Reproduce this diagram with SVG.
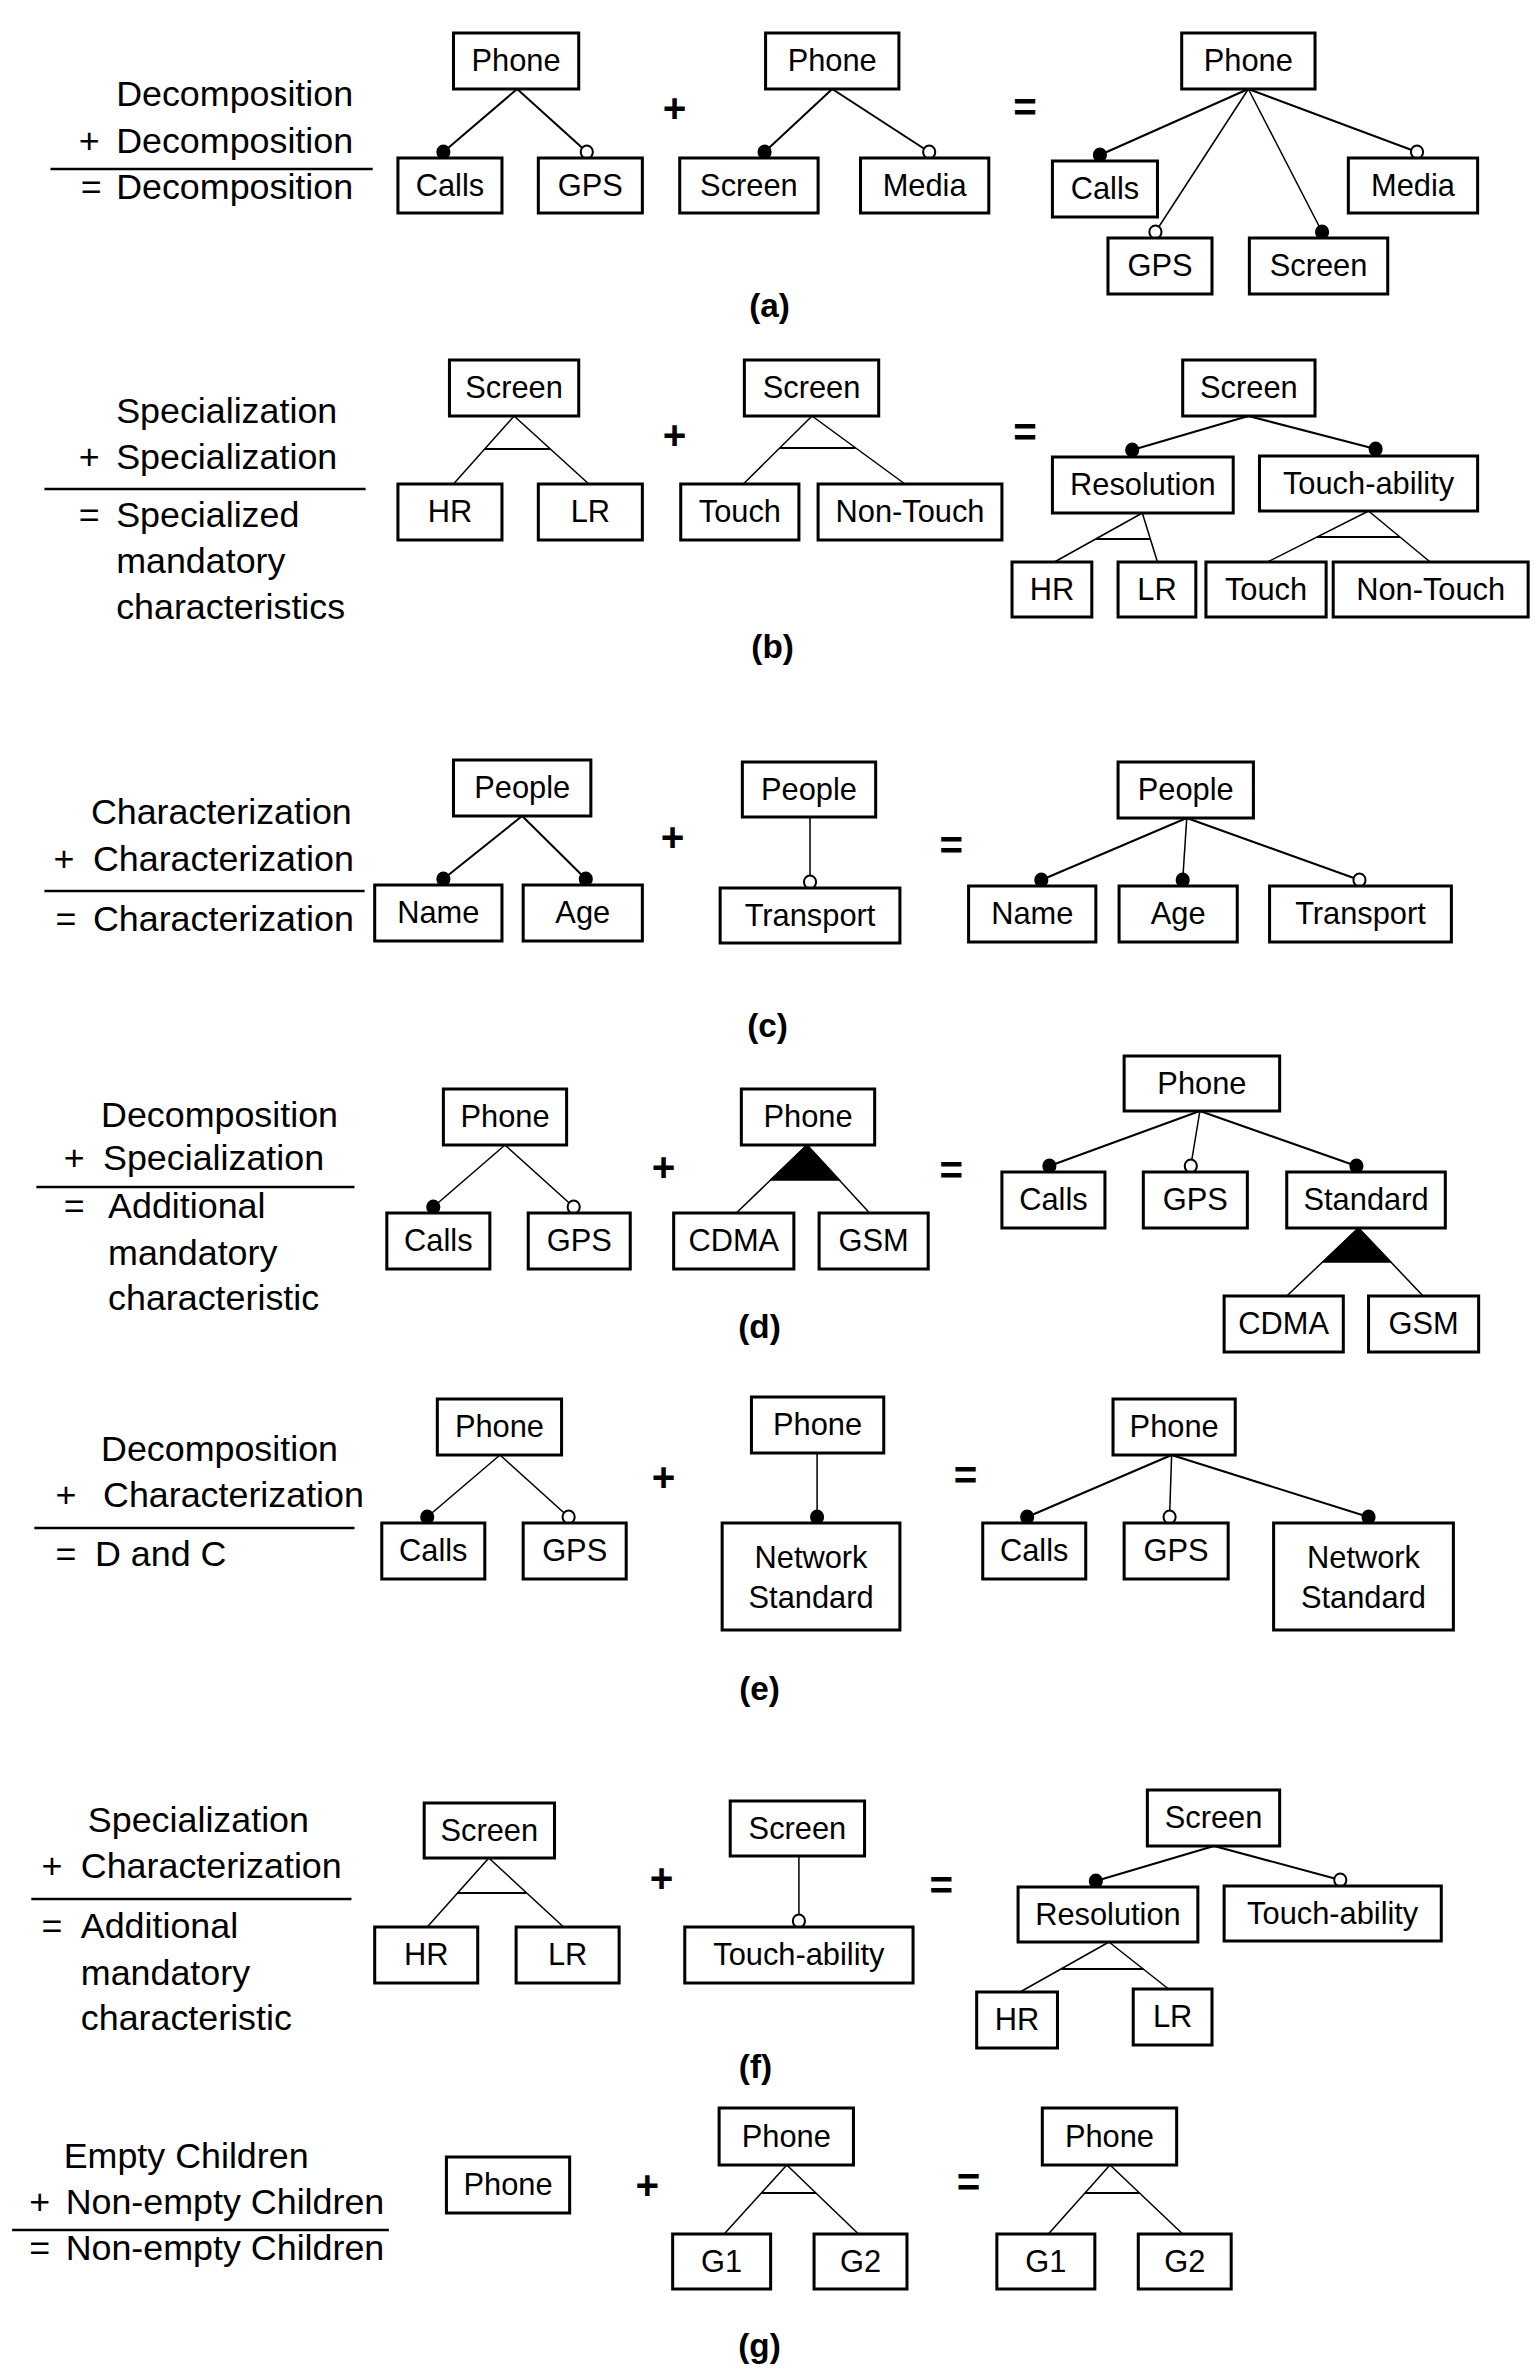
<svg xmlns="http://www.w3.org/2000/svg" width="1536" height="2374" viewBox="0 0 1536 2374">
<style>
.bg{fill:#fff}
.box{fill:#fff;stroke:#000;stroke-width:3}
.t{font-family:"Liberation Sans",Arial,sans-serif;font-size:30.5px;text-anchor:middle;fill:#000}
.s{font-family:"Liberation Sans",Arial,sans-serif;font-size:35.5px;fill:#000}
.op{font-family:"Liberation Sans",Arial,sans-serif;font-size:40px;font-weight:bold;text-anchor:middle;fill:#000}
.cap{font-family:"Liberation Sans",Arial,sans-serif;font-size:33px;font-weight:bold;text-anchor:middle;fill:#000}
.sep{stroke:#000;stroke-width:2.5}
.c{stroke:#000;stroke-width:2;fill:none}
.tn{stroke:#000;stroke-width:1.5;fill:none}
.f{fill:#000;stroke:#000;stroke-width:2}
.o{fill:#fff;stroke:#000;stroke-width:2}
.tri{fill:#000;stroke:#000;stroke-width:1.5}
</style>
<rect class="bg" x="0" y="0" width="1536" height="2374"/>
<g transform="matrix(1.01 0 0 1 0 0)">
<!-- Side labels and operators -->
<g id="labels">
<text class="s" x="115" y="106">Decomposition</text>
<text class="s" x="78" y="153">+</text><text class="s" x="115" y="153">Decomposition</text>
<line class="sep" x1="50" y1="169" x2="369" y2="169"/>
<text class="s" x="80" y="199">=</text><text class="s" x="115" y="199">Decomposition</text>
<text class="op" x="668" y="122">+</text><text class="op" x="1015" y="121">=</text>
<text class="cap" x="762" y="317">(a)</text>

<text class="s" x="115" y="423">Specialization</text>
<text class="s" x="78" y="469">+</text><text class="s" x="115" y="469">Specialization</text>
<line class="sep" x1="44" y1="489" x2="362" y2="489"/>
<text class="s" x="78" y="527">=</text><text class="s" x="115" y="527">Specialized</text>
<text class="s" x="115" y="573">mandatory</text>
<text class="s" x="115" y="619">characteristics</text>
<text class="op" x="668" y="449">+</text><text class="op" x="1015" y="446">=</text>
<text class="cap" x="765" y="658">(b)</text>

<text class="s" x="90" y="824">Characterization</text>
<text class="s" x="53" y="871">+</text><text class="s" x="92" y="871">Characterization</text>
<line class="sep" x1="44" y1="891" x2="361" y2="891"/>
<text class="s" x="55" y="931">=</text><text class="s" x="92" y="931">Characterization</text>
<text class="op" x="666" y="851">+</text><text class="op" x="942" y="859">=</text>
<text class="cap" x="760" y="1037">(c)</text>

<text class="s" x="100" y="1127">Decomposition</text>
<text class="s" x="63" y="1170">+</text><text class="s" x="102" y="1170">Specialization</text>
<line class="sep" x1="36" y1="1187" x2="351" y2="1187"/>
<text class="s" x="63" y="1218">=</text><text class="s" x="107" y="1218">Additional</text>
<text class="s" x="107" y="1265">mandatory</text>
<text class="s" x="107" y="1310">characteristic</text>
<text class="op" x="657" y="1181">+</text><text class="op" x="942" y="1184">=</text>
<text class="cap" x="752" y="1338">(d)</text>

<text class="s" x="100" y="1461">Decomposition</text>
<text class="s" x="55" y="1507">+</text><text class="s" x="102" y="1507">Characterization</text>
<line class="sep" x1="34" y1="1528" x2="351" y2="1528"/>
<text class="s" x="55" y="1566">=</text><text class="s" x="94" y="1566">D and C</text>
<text class="op" x="657" y="1491">+</text><text class="op" x="956" y="1489">=</text>
<text class="cap" x="752" y="1700">(e)</text>

<text class="s" x="87" y="1832">Specialization</text>
<text class="s" x="41" y="1878">+</text><text class="s" x="80" y="1878">Characterization</text>
<line class="sep" x1="31" y1="1899" x2="348" y2="1899"/>
<text class="s" x="41" y="1938">=</text><text class="s" x="80" y="1938">Additional</text>
<text class="s" x="80" y="1985">mandatory</text>
<text class="s" x="80" y="2030">characteristic</text>
<text class="op" x="655" y="1892">+</text><text class="op" x="932" y="1899">=</text>
<text class="cap" x="748" y="2078">(f)</text>

<text class="s" x="63" y="2168">Empty Children</text>
<text class="s" x="29" y="2214">+</text><text class="s" x="65" y="2214">Non-empty Children</text>
<line class="sep" x1="12" y1="2230" x2="385" y2="2230"/>
<text class="s" x="29" y="2260">=</text><text class="s" x="65" y="2260">Non-empty Children</text>
<text class="op" x="641" y="2199">+</text><text class="op" x="959" y="2196">=</text>
<text class="cap" x="752" y="2357">(g)</text>
</g>

<!-- Connectors -->
<g id="connectors">
<!-- a -->
<line class="c" x1="512" y1="89" x2="439" y2="152"/><line class="c" x1="512" y1="89" x2="581" y2="152"/>
<line class="c" x1="824" y1="89" x2="757" y2="152"/><line class="c" x1="824" y1="89" x2="920" y2="152"/>
<line class="c" x1="1236" y1="89" x2="1089" y2="155"/><line class="c" x1="1236" y1="89" x2="1403" y2="152"/>
<line class="tn" x1="1236" y1="89" x2="1144" y2="232"/><line class="tn" x1="1236" y1="89" x2="1309" y2="232"/>
<ellipse class="f" cx="439" cy="152" rx="6" ry="6.5"/><ellipse class="o" cx="581" cy="152" rx="6" ry="6.5"/>
<ellipse class="f" cx="757" cy="152" rx="6" ry="6.5"/><ellipse class="o" cx="920" cy="152" rx="6" ry="6.5"/>
<ellipse class="f" cx="1089" cy="155" rx="6" ry="6.5"/><ellipse class="o" cx="1403" cy="152" rx="6" ry="6.5"/>
<ellipse class="o" cx="1144" cy="232" rx="6" ry="6.5"/><ellipse class="f" cx="1309" cy="232" rx="6" ry="6.5"/>
<!-- b -->
<line class="tn" x1="509" y1="416" x2="449" y2="484"/><line class="tn" x1="509" y1="416" x2="583" y2="484"/><line class="c" x1="480" y1="449" x2="545" y2="449"/>
<line class="tn" x1="804" y1="416" x2="736" y2="484"/><line class="tn" x1="804" y1="416" x2="896" y2="484"/><line class="c" x1="772" y1="448" x2="847" y2="448"/>
<line class="c" x1="1236" y1="416" x2="1121" y2="450"/><line class="c" x1="1236" y1="416" x2="1362" y2="449"/>
<ellipse class="f" cx="1121" cy="450" rx="6" ry="6.5"/><ellipse class="f" cx="1362" cy="449" rx="6" ry="6.5"/>
<line class="tn" x1="1131" y1="513" x2="1044" y2="562"/><line class="tn" x1="1131" y1="513" x2="1146" y2="562"/><line class="c" x1="1085" y1="539" x2="1139" y2="539"/>
<line class="tn" x1="1355" y1="511" x2="1255" y2="562"/><line class="tn" x1="1355" y1="511" x2="1416" y2="562"/><line class="c" x1="1304" y1="537" x2="1386" y2="537"/>
<!-- c -->
<line class="c" x1="517" y1="816" x2="439" y2="879"/><line class="c" x1="517" y1="816" x2="580" y2="879"/>
<ellipse class="f" cx="439" cy="879" rx="6" ry="6.5"/><ellipse class="f" cx="580" cy="879" rx="6" ry="6.5"/>
<line class="tn" x1="802" y1="817" x2="802" y2="882"/><ellipse class="o" cx="802" cy="882" rx="6" ry="6.5"/>
<line class="c" x1="1175" y1="818" x2="1031" y2="880"/><line class="tn" x1="1175" y1="818" x2="1171" y2="880"/><line class="c" x1="1175" y1="818" x2="1346" y2="880"/>
<ellipse class="f" cx="1031" cy="880" rx="6" ry="6.5"/><ellipse class="f" cx="1171" cy="880" rx="6" ry="6.5"/><ellipse class="o" cx="1346" cy="880" rx="6" ry="6.5"/>
<!-- d -->
<line class="tn" x1="500" y1="1145" x2="429" y2="1207"/><line class="tn" x1="500" y1="1145" x2="568" y2="1207"/>
<ellipse class="f" cx="429" cy="1207" rx="6" ry="6.5"/><ellipse class="o" cx="568" cy="1207" rx="6" ry="6.5"/>
<line class="tn" x1="799" y1="1145" x2="729" y2="1213"/><line class="tn" x1="799" y1="1145" x2="861" y2="1213"/>
<polygon class="tri" points="799,1145 763,1180 831,1180"/>
<line class="c" x1="1188" y1="1111" x2="1039" y2="1166"/><line class="tn" x1="1188" y1="1111" x2="1179" y2="1166"/><line class="c" x1="1188" y1="1111" x2="1343" y2="1166"/>
<ellipse class="f" cx="1039" cy="1166" rx="6" ry="6.5"/><ellipse class="o" cx="1179" cy="1166" rx="6" ry="6.5"/><ellipse class="f" cx="1343" cy="1166" rx="6" ry="6.5"/>
<line class="tn" x1="1345" y1="1228" x2="1274" y2="1296"/><line class="tn" x1="1345" y1="1228" x2="1409" y2="1296"/>
<polygon class="tri" points="1345,1228 1310,1262 1377,1262"/>
<!-- e -->
<line class="tn" x1="495" y1="1455" x2="423" y2="1517"/><line class="tn" x1="495" y1="1455" x2="563" y2="1517"/>
<ellipse class="f" cx="423" cy="1517" rx="6" ry="6.5"/><ellipse class="o" cx="563" cy="1517" rx="6" ry="6.5"/>
<line class="tn" x1="809" y1="1453" x2="809" y2="1517"/><ellipse class="f" cx="809" cy="1517" rx="6" ry="6.5"/>
<line class="c" x1="1160" y1="1455" x2="1017" y2="1517"/><line class="tn" x1="1160" y1="1455" x2="1158" y2="1517"/><line class="c" x1="1160" y1="1455" x2="1355" y2="1517"/>
<ellipse class="f" cx="1017" cy="1517" rx="6" ry="6.5"/><ellipse class="o" cx="1158" cy="1517" rx="6" ry="6.5"/><ellipse class="f" cx="1355" cy="1517" rx="6" ry="6.5"/>
<!-- f -->
<line class="tn" x1="484" y1="1858" x2="423" y2="1927"/><line class="tn" x1="484" y1="1858" x2="558" y2="1927"/><line class="c" x1="453" y1="1893" x2="521" y2="1893"/>
<line class="tn" x1="791" y1="1856" x2="791" y2="1921"/><ellipse class="o" cx="791" cy="1921" rx="6" ry="6.5"/>
<line class="c" x1="1202" y1="1846" x2="1085" y2="1881"/><line class="c" x1="1202" y1="1846" x2="1327" y2="1880"/>
<ellipse class="f" cx="1085" cy="1881" rx="6" ry="6.5"/><ellipse class="o" cx="1327" cy="1880" rx="6" ry="6.5"/>
<line class="tn" x1="1098" y1="1942" x2="1010" y2="1992"/><line class="tn" x1="1098" y1="1942" x2="1157" y2="1989"/><line class="c" x1="1051" y1="1969" x2="1132" y2="1969"/>
<!-- g -->
<line class="tn" x1="779" y1="2165" x2="717" y2="2234"/><line class="tn" x1="779" y1="2165" x2="850" y2="2234"/><line class="c" x1="754" y1="2193" x2="808" y2="2193"/>
<line class="tn" x1="1099" y1="2165" x2="1038" y2="2234"/><line class="tn" x1="1099" y1="2165" x2="1171" y2="2234"/><line class="c" x1="1074" y1="2193" x2="1128" y2="2193"/>
</g>

<!-- Nodes (a) -->
<g id="a1-phone"><rect class="box" x="449" y="33" width="124" height="56"/><text class="t" x="511" y="71">Phone</text></g>
<g id="a1-calls"><rect class="box" x="394" y="158" width="103" height="55"/><text class="t" x="445.5" y="196">Calls</text></g>
<g id="a1-gps"><rect class="box" x="533" y="158" width="103" height="55"/><text class="t" x="584.5" y="196">GPS</text></g>
<g id="a2-phone"><rect class="box" x="758" y="33" width="132" height="56"/><text class="t" x="824" y="71">Phone</text></g>
<g id="a2-screen"><rect class="box" x="673" y="158" width="137" height="55"/><text class="t" x="741.5" y="196">Screen</text></g>
<g id="a2-media"><rect class="box" x="852" y="158" width="127" height="55"/><text class="t" x="915.5" y="196">Media</text></g>
<g id="a3-phone"><rect class="box" x="1170" y="33" width="132" height="56"/><text class="t" x="1236" y="71">Phone</text></g>
<g id="a3-calls"><rect class="box" x="1042" y="161" width="104" height="56"/><text class="t" x="1094" y="199">Calls</text></g>
<g id="a3-media"><rect class="box" x="1335" y="158" width="128" height="55"/><text class="t" x="1399" y="196">Media</text></g>
<g id="a3-gps"><rect class="box" x="1097" y="238" width="103" height="56"/><text class="t" x="1148.5" y="276">GPS</text></g>
<g id="a3-screen"><rect class="box" x="1237" y="238" width="137" height="56"/><text class="t" x="1305.5" y="276">Screen</text></g>

<!-- Nodes (b) -->
<g id="b1-screen"><rect class="box" x="445" y="360" width="128" height="56"/><text class="t" x="509" y="398">Screen</text></g>
<g id="b1-hr"><rect class="box" x="394" y="484" width="103" height="56"/><text class="t" x="445.5" y="522">HR</text></g>
<g id="b1-lr"><rect class="box" x="533" y="484" width="103" height="56"/><text class="t" x="584.5" y="522">LR</text></g>
<g id="b2-screen"><rect class="box" x="737" y="360" width="133" height="56"/><text class="t" x="803.5" y="398">Screen</text></g>
<g id="b2-touch"><rect class="box" x="674" y="484" width="117" height="56"/><text class="t" x="732.5" y="522">Touch</text></g>
<g id="b2-nontouch"><rect class="box" x="810" y="484" width="182" height="56"/><text class="t" x="901" y="522">Non-Touch</text></g>
<g id="b3-screen"><rect class="box" x="1171" y="360" width="131" height="56"/><text class="t" x="1236.5" y="398">Screen</text></g>
<g id="b3-resolution"><rect class="box" x="1042" y="457" width="179" height="56"/><text class="t" x="1131.5" y="495">Resolution</text></g>
<g id="b3-touchability"><rect class="box" x="1247" y="456" width="216" height="55"/><text class="t" x="1355" y="494">Touch-ability</text></g>
<g id="b3-hr"><rect class="box" x="1002" y="562" width="79" height="55"/><text class="t" x="1041.5" y="600">HR</text></g>
<g id="b3-lr"><rect class="box" x="1107" y="562" width="77" height="55"/><text class="t" x="1145.5" y="600">LR</text></g>
<g id="b3-touch"><rect class="box" x="1194" y="562" width="119" height="55"/><text class="t" x="1253.5" y="600">Touch</text></g>
<g id="b3-nontouch"><rect class="box" x="1320" y="562" width="193" height="55"/><text class="t" x="1416.5" y="600">Non-Touch</text></g>

<!-- Nodes (c) -->
<g id="c1-people"><rect class="box" x="449" y="760" width="136" height="56"/><text class="t" x="517" y="798">People</text></g>
<g id="c1-name"><rect class="box" x="371" y="885" width="126" height="56"/><text class="t" x="434" y="923">Name</text></g>
<g id="c1-age"><rect class="box" x="518" y="885" width="118" height="56"/><text class="t" x="577" y="923">Age</text></g>
<g id="c2-people"><rect class="box" x="735" y="762" width="132" height="55"/><text class="t" x="801" y="800">People</text></g>
<g id="c2-transport"><rect class="box" x="713" y="888" width="178" height="55"/><text class="t" x="802" y="926">Transport</text></g>
<g id="c3-people"><rect class="box" x="1107" y="762" width="134" height="56"/><text class="t" x="1174" y="800">People</text></g>
<g id="c3-name"><rect class="box" x="959" y="886" width="126" height="56"/><text class="t" x="1022" y="924">Name</text></g>
<g id="c3-age"><rect class="box" x="1108" y="886" width="117" height="56"/><text class="t" x="1166.5" y="924">Age</text></g>
<g id="c3-transport"><rect class="box" x="1257" y="886" width="180" height="56"/><text class="t" x="1347" y="924">Transport</text></g>

<!-- Nodes (d) -->
<g id="d1-phone"><rect class="box" x="439" y="1089" width="122" height="56"/><text class="t" x="500" y="1127">Phone</text></g>
<g id="d1-calls"><rect class="box" x="383" y="1213" width="102" height="56"/><text class="t" x="434" y="1251">Calls</text></g>
<g id="d1-gps"><rect class="box" x="523" y="1213" width="101" height="56"/><text class="t" x="573.5" y="1251">GPS</text></g>
<g id="d2-phone"><rect class="box" x="734" y="1089" width="132" height="56"/><text class="t" x="800" y="1127">Phone</text></g>
<g id="d2-cdma"><rect class="box" x="667" y="1213" width="119" height="56"/><text class="t" x="726.5" y="1251">CDMA</text></g>
<g id="d2-gsm"><rect class="box" x="811" y="1213" width="108" height="56"/><text class="t" x="865" y="1251">GSM</text></g>
<g id="d3-phone"><rect class="box" x="1113" y="1056" width="154" height="55"/><text class="t" x="1190" y="1094">Phone</text></g>
<g id="d3-calls"><rect class="box" x="992" y="1172" width="102" height="56"/><text class="t" x="1043" y="1210">Calls</text></g>
<g id="d3-gps"><rect class="box" x="1132" y="1172" width="103" height="56"/><text class="t" x="1183.5" y="1210">GPS</text></g>
<g id="d3-standard"><rect class="box" x="1274" y="1172" width="157" height="56"/><text class="t" x="1352.5" y="1210">Standard</text></g>
<g id="d3-cdma"><rect class="box" x="1212" y="1296" width="118" height="56"/><text class="t" x="1271" y="1334">CDMA</text></g>
<g id="d3-gsm"><rect class="box" x="1355" y="1296" width="109" height="56"/><text class="t" x="1409.5" y="1334">GSM</text></g>

<!-- Nodes (e) -->
<g id="e1-phone"><rect class="box" x="433" y="1399" width="123" height="56"/><text class="t" x="494.5" y="1437">Phone</text></g>
<g id="e1-calls"><rect class="box" x="378" y="1523" width="102" height="56"/><text class="t" x="429" y="1561">Calls</text></g>
<g id="e1-gps"><rect class="box" x="518" y="1523" width="102" height="56"/><text class="t" x="569" y="1561">GPS</text></g>
<g id="e2-phone"><rect class="box" x="744" y="1397" width="131" height="56"/><text class="t" x="809.5" y="1435">Phone</text></g>
<g id="e2-network"><rect class="box" x="715" y="1523" width="176" height="107"/><text class="t" x="803" y="1568">Network</text><text class="t" x="803" y="1608">Standard</text></g>
<g id="e3-phone"><rect class="box" x="1102" y="1399" width="121" height="56"/><text class="t" x="1162.5" y="1437">Phone</text></g>
<g id="e3-calls"><rect class="box" x="973" y="1523" width="102" height="56"/><text class="t" x="1024" y="1561">Calls</text></g>
<g id="e3-gps"><rect class="box" x="1113" y="1523" width="103" height="56"/><text class="t" x="1164.5" y="1561">GPS</text></g>
<g id="e3-network"><rect class="box" x="1261" y="1523" width="178" height="107"/><text class="t" x="1350" y="1568">Network</text><text class="t" x="1350" y="1608">Standard</text></g>

<!-- Nodes (f) -->
<g id="f1-screen"><rect class="box" x="420" y="1803" width="129" height="55"/><text class="t" x="484.5" y="1841">Screen</text></g>
<g id="f1-hr"><rect class="box" x="371" y="1927" width="102" height="56"/><text class="t" x="422" y="1965">HR</text></g>
<g id="f1-lr"><rect class="box" x="511" y="1927" width="102" height="56"/><text class="t" x="562" y="1965">LR</text></g>
<g id="f2-screen"><rect class="box" x="723" y="1801" width="133" height="55"/><text class="t" x="789.5" y="1839">Screen</text></g>
<g id="f2-touchability"><rect class="box" x="678" y="1927" width="226" height="56"/><text class="t" x="791" y="1965">Touch-ability</text></g>
<g id="f3-screen"><rect class="box" x="1136" y="1790" width="131" height="56"/><text class="t" x="1201.5" y="1828">Screen</text></g>
<g id="f3-resolution"><rect class="box" x="1008" y="1887" width="178" height="55"/><text class="t" x="1097" y="1925">Resolution</text></g>
<g id="f3-touchability"><rect class="box" x="1212" y="1886" width="215" height="55"/><text class="t" x="1319.5" y="1924">Touch-ability</text></g>
<g id="f3-hr"><rect class="box" x="967" y="1992" width="80" height="56"/><text class="t" x="1007" y="2030">HR</text></g>
<g id="f3-lr"><rect class="box" x="1122" y="1989" width="78" height="56"/><text class="t" x="1161" y="2027">LR</text></g>

<!-- Nodes (g) -->
<g id="g1-phone"><rect class="box" x="442" y="2157" width="122" height="56"/><text class="t" x="503" y="2195">Phone</text></g>
<g id="g2-phone"><rect class="box" x="712" y="2108" width="133" height="57"/><text class="t" x="778.5" y="2147">Phone</text></g>
<g id="g2-g1"><rect class="box" x="666" y="2234" width="97" height="55"/><text class="t" x="714.5" y="2272">G1</text></g>
<g id="g2-g2"><rect class="box" x="806" y="2234" width="92" height="55"/><text class="t" x="852" y="2272">G2</text></g>
<g id="g3-phone"><rect class="box" x="1032" y="2108" width="133" height="57"/><text class="t" x="1098.5" y="2147">Phone</text></g>
<g id="g3-g1"><rect class="box" x="987" y="2234" width="97" height="55"/><text class="t" x="1035.5" y="2272">G1</text></g>
<g id="g3-g2"><rect class="box" x="1127" y="2234" width="92" height="55"/><text class="t" x="1173" y="2272">G2</text></g>
</g>
</svg>
